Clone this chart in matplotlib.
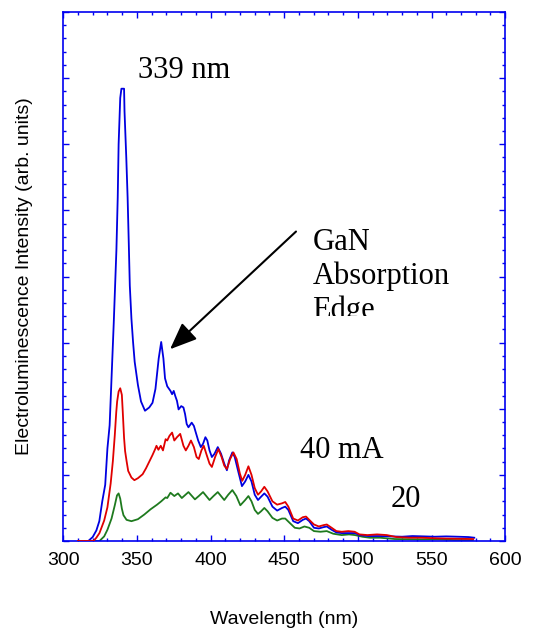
import matplotlib
matplotlib.use("Agg")
import matplotlib.pyplot as plt
from matplotlib.ticker import MultipleLocator
from matplotlib.transforms import Bbox, TransformedBbox

# spectra (wavelength in nm, intensity in arb. units)
blue_wl = [310, 317, 320, 322.5, 324.5, 326.5, 328.5, 330, 331.5, 332.5, 334.3, 336.1,
           337.0, 337.6, 338.7, 339.5, 341.3, 341.6, 342.8, 343.7, 344.5, 345.2, 346.3,
           347.4, 348.5, 350.7, 352.8, 355.5, 358.4, 360.6, 362.6, 364.8, 366.5, 368.0,
           369.1, 370.6, 372.8, 373.9, 375.0, 376.1, 377.2, 378.3, 380.1, 381.6, 382.7,
           383.8, 385.0, 387.2, 388.7, 390.0, 391.6, 393.4, 394.9, 396.5, 397.8, 399.3,
           400.9, 402.7, 404.9, 407.1, 409.3, 411.1, 412.6, 414.8, 416.4, 418.6, 421.3,
           423.5, 425.7, 427.8, 430, 432.2, 434.3, 436.5, 438.7, 442, 445.2, 448.5, 450.7,
           452.8, 456.1, 459.3, 462.6, 464.8, 467, 470.2, 473.5, 476.7, 478.9, 482.2,
           485.4, 489, 494, 498, 501, 507, 515, 522, 530, 537, 545, 552, 560, 568, 575, 579]
blue_int = [0, 0, 0.06, 0.16, 0.3, 0.6, 0.85, 1.4, 1.75, 2.3, 3.3, 4.4,
            5.2, 6.0, 6.7, 6.84, 6.84, 6.5, 5.8, 5.2, 4.5, 3.86, 3.36,
            3.01, 2.71, 2.36, 2.11, 1.97, 2.02, 2.09, 2.3, 2.76, 3.01, 2.76,
            2.46, 2.34, 2.27, 2.22, 2.27, 2.19, 2.12, 1.99, 2.04, 2.02, 1.92,
            1.77, 1.72, 1.79, 1.74, 1.64, 1.52, 1.42, 1.47, 1.57, 1.52, 1.37,
            1.27, 1.32, 1.42, 1.32, 1.17, 1.07, 1.22, 1.34, 1.27, 1.07, 0.83,
            0.9, 1.0, 0.9, 0.7, 0.62, 0.67, 0.72, 0.67, 0.52, 0.46, 0.5, 0.52,
            0.47, 0.3, 0.27, 0.32, 0.34, 0.3, 0.2, 0.19, 0.21, 0.22, 0.17,
            0.13, 0.12, 0.12, 0.12, 0.09, 0.075, 0.075, 0.07, 0.065, 0.075, 0.07, 0.065, 0.07, 0.065, 0.06, 0.05]

red_wl = [310, 320.5, 322.5, 324.6, 327.8, 330, 332.2, 333.7, 335.0, 336.0, 336.6, 337.6,
          338.7, 339.8, 340.4, 341.3, 342.0, 343.0, 344.1, 346.3, 348.3, 350.7, 353.9,
          356.2, 358.4, 360.6, 362.4, 363.3, 364.6, 366.2, 367.7, 369.5, 370.6, 372.1,
          373.9, 375.4, 377.2, 379.4, 381.6, 383.2, 385.0, 386.7, 388.7, 390.5, 392.0,
          393.8, 395.4, 397.1, 399.3, 400.9, 403.1, 405.3, 407.5, 409.3, 411.1, 413.3,
          415.5, 417.7, 419.9, 421.5, 423.5, 425.7, 427.8, 430, 432.2, 434.3, 436.5,
          438.7, 442, 445.2, 448.5, 450.7, 452.8, 456.1, 459.3, 462.6, 464.8, 467,
          470.2, 473.5, 476.7, 478.9, 482.2, 485.4, 489.1, 493.5, 497.8, 501.1, 506.5,
          513, 519.6, 526.1, 534.8, 543.5, 554.3, 565.2, 578.3]
red_int = [0, 0, 0.05, 0.12, 0.31, 0.51, 0.87, 1.21, 1.6, 1.95, 2.11, 2.26,
           2.31, 2.21, 1.96, 1.56, 1.36, 1.21, 1.06, 0.96, 0.92, 0.95, 1.01,
           1.1, 1.2, 1.3, 1.39, 1.44, 1.38, 1.44, 1.37, 1.54, 1.52, 1.59,
           1.64, 1.52, 1.57, 1.62, 1.44, 1.37, 1.44, 1.52, 1.42, 1.27, 1.24,
           1.37, 1.44, 1.32, 1.17, 1.12, 1.27, 1.39, 1.27, 1.14, 1.09, 1.24,
           1.34, 1.24, 1.02, 0.91, 1.0, 1.13, 1.0, 0.8, 0.7, 0.75, 0.82,
           0.75, 0.6, 0.55, 0.57, 0.59, 0.52, 0.34, 0.31, 0.36, 0.37, 0.32,
           0.25, 0.22, 0.24, 0.25, 0.2, 0.15, 0.14, 0.15, 0.14, 0.1, 0.09,
           0.1, 0.09, 0.06, 0.05, 0.05, 0.04, 0.035, 0.03]

green_wl = [310, 324.6, 327.8, 330, 332.8, 335, 336.5, 337.6, 338.7, 339.8, 340.9, 343,
            346.3, 350.7, 355, 359.3, 363.7, 366.5, 369.5, 370.6, 372.8, 375.4, 377.9,
            380.5, 383, 385.0, 389.4, 392, 394.9, 399.3, 402, 404.9, 409.3, 412, 414.8,
            417.5, 420.2, 423.5, 425.7, 427.8, 430, 432.2, 434.3, 436.5, 438.7, 442,
            445.2, 448.5, 450.7, 453.9, 457.2, 460.4, 463.7, 467, 470.2, 474.6, 478.9,
            483.3, 489, 494, 498, 503, 508, 515, 525, 540, 555, 565, 578]
green_int = [0, 0, 0.07, 0.17, 0.34, 0.54, 0.69, 0.72, 0.64, 0.49, 0.39, 0.32,
             0.3, 0.33, 0.4, 0.48, 0.55, 0.6, 0.66, 0.65, 0.73, 0.68, 0.72,
             0.65, 0.7, 0.74, 0.63, 0.68, 0.74, 0.62, 0.68, 0.74, 0.62, 0.7, 0.77,
             0.68, 0.54, 0.62, 0.68, 0.6, 0.47, 0.41, 0.45, 0.5, 0.45, 0.35,
             0.31, 0.34, 0.34, 0.27, 0.2, 0.19, 0.22, 0.2, 0.15, 0.14, 0.15,
             0.11, 0.09, 0.1, 0.09, 0.065, 0.05, 0.05, 0.03, 0.025, 0.025, 0.015, 0.012]

x_ticks = [300, 350, 400, 450, 500, 550, 600]

FRAME = "#0000f0"
sans = "Liberation Sans"
serif = "Liberation Serif"

fig = plt.figure(figsize=(5.45, 6.31), dpi=100)
ax = fig.add_axes([0.116, 0.1426, 0.811, 0.8384])

ax.plot(green_wl, green_int, color="#1e7a1e", lw=1.3, zorder=2)
ax.plot(blue_wl, blue_int, color="#0000e0", lw=1.3, zorder=3)
ax.plot(red_wl, red_int, color="#e00000", lw=1.3, zorder=4)

ax.set_xlim(300, 600)
ax.set_ylim(0, 8)
ax.set_xticks(x_ticks)
ax.xaxis.set_minor_locator(MultipleLocator(10))
ax.yaxis.set_major_locator(MultipleLocator(1))
ax.yaxis.set_minor_locator(MultipleLocator(0.2))
ax.tick_params(which="both", direction="in", top=True, right=True, color=FRAME,
               labelleft=False, width=1)
ax.tick_params(which="major", length=4.5)
ax.tick_params(which="minor", length=2.5)
ax.tick_params(axis="x", which="major", pad=8, labelsize=14)
for lbl in ax.get_xticklabels():
    lbl.set_fontfamily(sans)
for sp in ax.spines.values():
    sp.set_color(FRAME)
    sp.set_linewidth(1.2)

ax.set_xlabel("Wavelength (nm)", fontsize=14, family=sans, labelpad=30)
ax.set_ylabel("Electroluminescence Intensity (arb. units)", fontsize=14,
              family=sans, labelpad=22)

ax.text(350.8, 7.0, "339 nm", fontsize=22, family=serif)
ax.text(460.8, 1.25, "40 mA", fontsize=22, family=serif)
ax.text(522.4, 0.52, "20", fontsize=22, family=serif)

# anchor is the baseline of the last line ("Edge")
gan = ax.text(469.2, 3.38, "GaN\nAbsorption\nEdge", fontsize=22, family=serif,
              va="baseline", linespacing=1.2, multialignment="left")
# the last line is cut off in the original
clip = TransformedBbox(Bbox([[0, 315 / 631], [1, 1]]), fig.transFigure)
gan.set_clip_box(clip)
gan.set_clip_on(True)

ax.annotate("", xy=(372.5, 2.9), xytext=(458, 4.68),
            arrowprops=dict(arrowstyle="-|>,head_length=1.1,head_width=0.45",
                            color="black", lw=1.5, mutation_scale=15,
                            shrinkA=0, shrinkB=0))

fig.savefig("out.png", dpi=100)
